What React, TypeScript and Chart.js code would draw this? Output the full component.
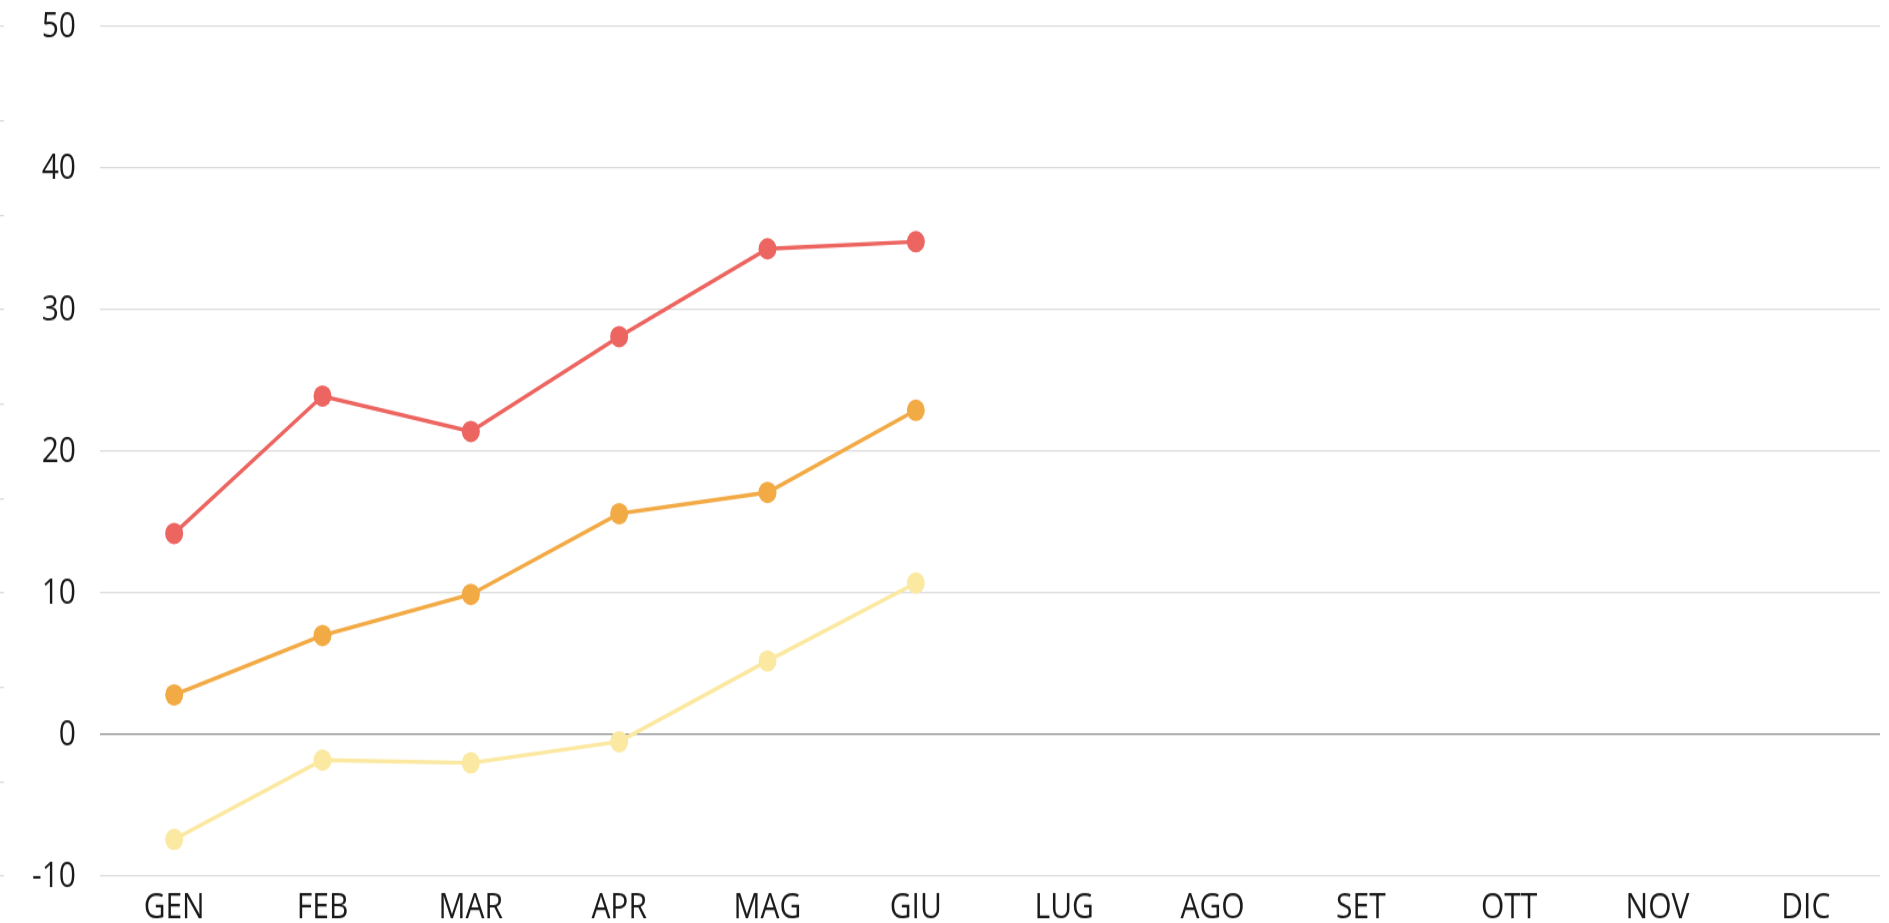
import React, { useEffect, useRef } from "react";
import { Chart, registerables } from "chart.js";

Chart.register(...registerables);

const months = ["GEN", "FEB", "MAR", "APR", "MAG", "GIU", "LUG", "AGO", "SET", "OTT", "NOV", "DIC"];
const maxSeries = [14.2, 23.9, 21.4, 28.1, 34.3, 34.8];
const meanSeries = [2.8, 7.0, 9.9, 15.6, 17.1, 22.9];
const minSeries = [-7.4, -1.8, -2.0, -0.5, 5.2, 10.7];
const yMin = -10;
const yMax = 50;
const yStep = 10;

const FONT = "'Open Sans', sans-serif";
const W = 1889;
const H = 923;
const INNER_H = 769;

export default function App() {
  const ref = useRef<HTMLCanvasElement | null>(null);

  useEffect(() => {
    document.body.style.margin = "0";
    const canvas = ref.current;
    if (!canvas) return;
    const mk = (label: string, data: number[], color: string) => ({
      label,
      data,
      borderColor: color,
      backgroundColor: color,
      pointBackgroundColor: color,
      borderWidth: 3.4,
      pointRadius: 9,
      pointBorderWidth: 0,
      tension: 0,
    });
    const chart = new Chart(canvas, {
      type: "line",
      data: {
        labels: months,
        datasets: [
          mk("Max", maxSeries, "#EC6560"),
          mk("Media", meanSeries, "#F2AA45"),
          mk("Min", minSeries, "#FBE8A1"),
        ],
      },
      options: {
        responsive: false,
        animation: false,
        layout: { padding: { top: 22, left: 0, right: 0, bottom: 0 } },
        plugins: {
          legend: { display: false },
          tooltip: { enabled: false },
        },
        scales: {
          x: {
            offset: true,
            grid: { display: false, drawTicks: false },
            border: { display: false },
            ticks: {
              color: "#1a1a1a",
              padding: 8,
              font: { family: FONT, size: 30 },
              maxRotation: 0,
              autoSkip: false,
            },
            afterFit: (scale: any) => {
              scale.height = 39;
            },
          },
          y: {
            position: "left",
            weight: 0,
            min: yMin,
            max: yMax,
            border: { display: false },
            grid: {
              drawTicks: true,
              tickLength: 24,
              tickColor: "rgba(0,0,0,0)",
              lineWidth: 1.3,
              color: (ctx: any) => (ctx.tick && ctx.tick.value === 0 ? "#8a8a8a" : "#dcdcdc"),
            },
            ticks: {
              stepSize: yStep,
              color: "#1a1a1a",
              padding: 0,
              font: { family: FONT, size: 30 },
            },
            afterFit: (scale: any) => {
              scale.width = 96;
            },
          },
          yMinor: {
            position: "left",
            weight: 1,
            min: yMin,
            max: yMax,
            border: { display: false },
            grid: {
              drawOnChartArea: false,
              drawTicks: true,
              tickLength: 4,
              color: "#dcdcdc",
              lineWidth: 1.3,
            },
            ticks: { display: false, count: 10 },
          },
        },
      },
    });
    return () => chart.destroy();
  }, []);

  return (
    <div style={{ width: W, height: H, overflow: "hidden" }}>
      <div style={{ width: W, height: INNER_H, transform: `scaleY(${H / INNER_H})`, transformOrigin: "0 0" }}>
        <canvas ref={ref} width={W} height={INNER_H} style={{ display: "block", width: W, height: INNER_H }} />
      </div>
    </div>
  );
}
